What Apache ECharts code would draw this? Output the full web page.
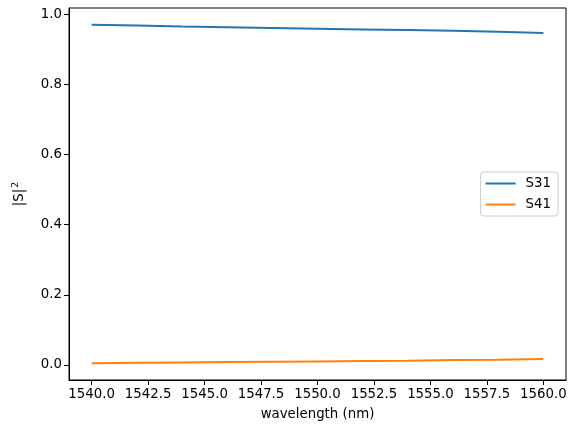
<!DOCTYPE html>
<html><head><meta charset="utf-8">
<script src="https://cdn.jsdelivr.net/npm/echarts@6/dist/echarts.min.js"></script>
<style>html,body{margin:0;padding:0;background:#fff}#c{width:576px;height:432px}</style>
</head><body><div id="c"></div>
<script>
const wavelength = [1540, 1542, 1544, 1546, 1548, 1550, 1552, 1554, 1556, 1558, 1560];
const s31 = [0.970, 0.968, 0.965, 0.963, 0.961, 0.959, 0.957, 0.955, 0.953, 0.950, 0.947];
const s41 = [0.005, 0.006, 0.007, 0.008, 0.009, 0.010, 0.011, 0.012, 0.014, 0.015, 0.017];
const xTicks = [1540, 1542.5, 1545, 1547.5, 1550, 1552.5, 1555, 1557.5, 1560];
const yTicks = [0, 0.2, 0.4, 0.6, 0.8, 1.0];

const font = 'DejaVu Sans';
const fs = 13.33;
const chart = echarts.init(document.getElementById('c'), null, {renderer: 'canvas'});
const axisLine = {show: true, onZero: false, lineStyle: {color: '#000', width: 1}};
chart.setOption({
  animation: false,
  grid: {left: 69, right: 10, top: 8, bottom: 52, show: true, borderColor: '#000', borderWidth: 1,
         containLabel: false, outerBoundsMode: 'none'},
  xAxis: {
    type: 'value', min: 1539, max: 1561,
    name: 'wavelength (nm)', nameLocation: 'middle', nameGap: 28,
    nameTextStyle: {fontFamily: font, fontSize: fs, color: '#000'},
    axisLine: axisLine, splitLine: {show: false},
    axisTick: {show: true, customValues: xTicks, length: 5, lineStyle: {color: '#000', width: 1}},
    axisLabel: {customValues: xTicks, formatter: v => v.toFixed(1), fontFamily: font, fontSize: fs, color: '#000', margin: 8},
  },
  yAxis: {
    type: 'value', min: -0.043, max: 1.018,
    name: '{a||S|}{b|2}', nameLocation: 'middle', nameGap: 40,
    nameTextStyle: {fontFamily: font, fontSize: fs, color: '#000',
      rich: {a: {fontFamily: font, fontSize: fs, color: '#000'},
             b: {fontFamily: font, fontSize: 9.5, color: '#000', padding: [0, 0, 8, 1]}}},
    axisLine: axisLine, splitLine: {show: false},
    axisTick: {show: true, customValues: yTicks, length: 5, lineStyle: {color: '#000', width: 1}},
    axisLabel: {customValues: yTicks, formatter: v => v.toFixed(1), fontFamily: font, fontSize: fs, color: '#000', margin: 7},
  },
  legend: {
    orient: 'vertical', right: 18, top: 172,
    backgroundColor: '#fff', borderColor: '#ccc', borderWidth: 1, borderRadius: 3,
    padding: [5, 7, 5, 5], itemGap: 8, itemWidth: 30, itemHeight: 2,
    textStyle: {fontFamily: font, fontSize: fs, color: '#000', padding: [0, 0, 0, 5]},
    data: [{name: 'S31', icon: 'rect'}, {name: 'S41', icon: 'rect'}]
  },
  series: [
    {name: 'S31', type: 'line', data: wavelength.map((w, i) => [w, s31[i]]), showSymbol: false, symbol: 'none',
     lineStyle: {color: '#1f77b4', width: 2}, itemStyle: {color: '#1f77b4'}},
    {name: 'S41', type: 'line', data: wavelength.map((w, i) => [w, s41[i]]), showSymbol: false, symbol: 'none',
     lineStyle: {color: '#ff7f0e', width: 2}, itemStyle: {color: '#ff7f0e'}}
  ]
});
</script></body></html>
